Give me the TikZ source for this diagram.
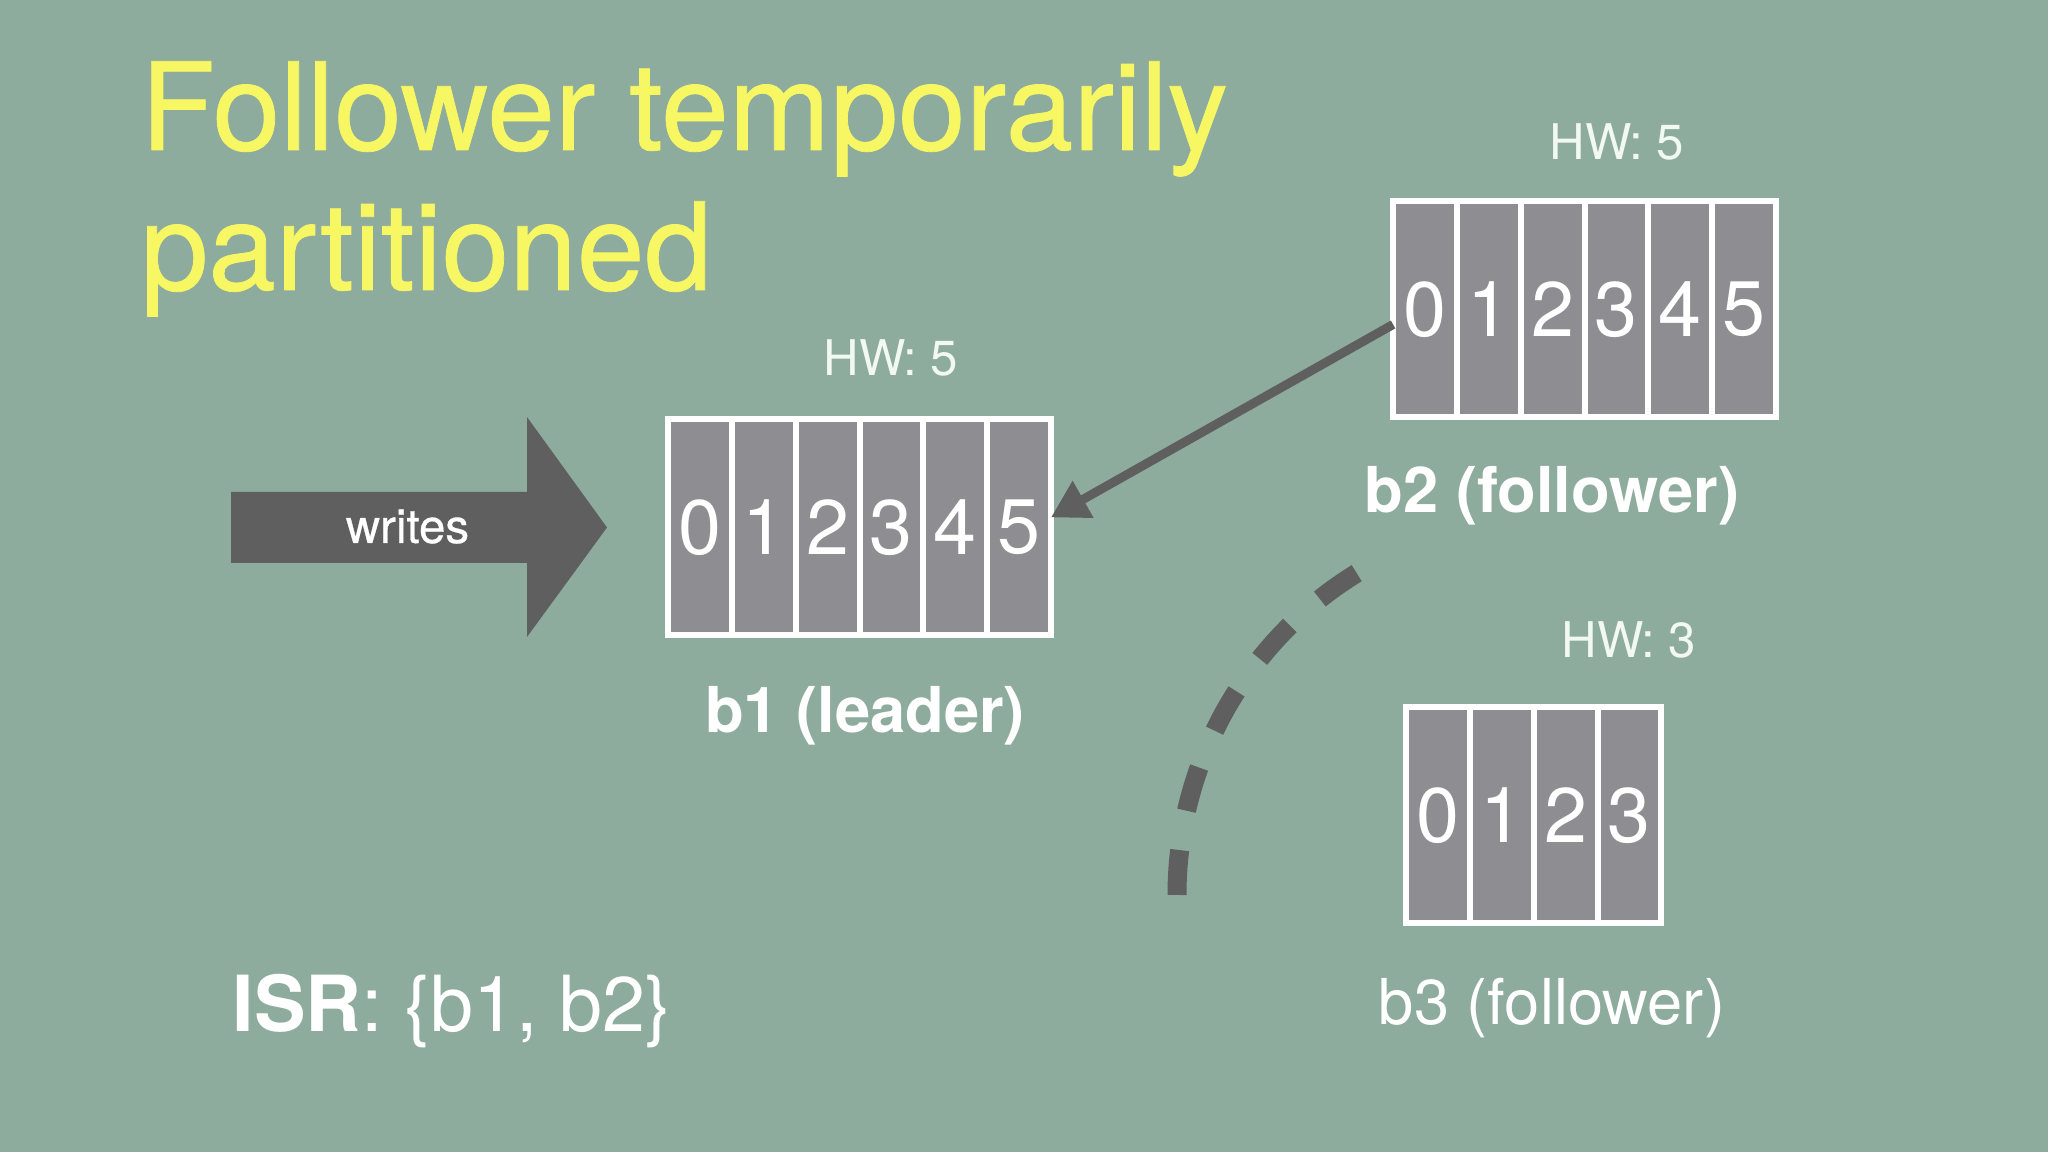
\documentclass[tikz,border=0pt]{standalone}
\usepackage{fontspec}
\setmainfont{TeX Gyre Heros}
\newfontfamily\titlefont[FakeBold=0.6]{TeX Gyre Heros}
\usetikzlibrary{arrows.meta}

\definecolor{bggreen}{HTML}{8EAC9D}
\definecolor{cellgray}{HTML}{8E8D91}
\definecolor{arrowgray}{HTML}{5E5F5E}
\definecolor{titleyellow}{HTML}{F7F763}
\definecolor{hwwhite}{HTML}{F2F8F2}

\begin{document}
\begin{tikzpicture}[
    cell/.style={draw=white, fill=cellgray, line width=0.06cm, minimum width=0.638cm,
        minimum height=2.16cm, inner sep=0pt, outer sep=0pt, text=white,
        font=\fontsize{22}{26}\selectfont},
    hwlabel/.style={text=hwwhite, inner sep=0pt, font=\fontsize{14}{17}\selectfont},
    brokerlabel/.style={text=white, anchor=base, inner sep=0pt, font=\fontsize{18}{22}\selectfont},
    titleline/.style={anchor=base west, inner sep=0pt, text=titleyellow, font=\titlefont\fontsize{34.6}{40}\selectfont}
]
    % Background
    \fill[bggreen] (0,0) rectangle (20.48,11.52);
    \useasboundingbox (0,0) rectangle (20.48,11.52);

    % Title
    \node[titleline] (title1) at (1.40,10.02) {Follower temporarily};
    \node[titleline] (title2) at (1.40,8.62) {partitioned};

    % Incoming writes
    \fill[arrowgray] (2.31,5.89) -- (5.27,5.89) -- (5.27,5.15) -- (6.07,6.245) -- (5.27,7.35) -- (5.27,6.60) -- (2.31,6.60) -- cycle;
    \node[text=white, anchor=base, inner sep=0pt, font=\titlefont\fontsize{13.5}{16}\selectfont] (writes) at (4.075,6.09) {writes};

    % b1 (leader)
    \foreach \i in {0,...,5}
        \node[cell] (b1c\i) at ({7.00+0.638*\i},6.245) {\i};
    \node[hwlabel] (hw1) at (8.91,7.94) {HW: 5};
    \node[brokerlabel, font=\fontsize{18}{22}\selectfont\bfseries] (b1) at (8.65,4.19) {b1 (leader)};

    % b2 (follower)
    \foreach \i in {0,...,5}
        \node[cell] (b2c\i) at ({14.25+0.638*\i},8.425) {\i};
    \node[hwlabel] (hw2) at (16.17,10.10) {HW: 5};
    \node[brokerlabel, font=\fontsize{18}{22}\selectfont\bfseries] (b2) at (15.52,6.39) {b2 (follower)};

    % b3 (follower), cut off
    \foreach \i in {0,...,3}
        \node[cell] (b3c\i) at ({14.38+0.638*\i},3.365) {\i};
    \node[hwlabel] (hw3) at (16.29,5.12) {HW: 3};
    \node[brokerlabel] (b3) at (15.52,1.27) {b3 (follower)};

    % Replication b2 -> b1
    \draw[arrowgray, line width=0.09cm, -{Triangle[length=0.37cm, width=0.40cm]}] ([yshift=-0.15cm]b2c0.west) -- ([yshift=0.1cm]b1c5.east);

    % Partition
    \draw[arrowgray, line width=0.19cm, dash pattern=on 0.45cm off 0.40cm] (11.77,2.57) arc[start angle=180, end angle=121, radius=3.78];

    % In-sync replicas
    \node[anchor=base west, inner sep=0pt, text=white, font=\fontsize{22}{26}\selectfont] (isr) at (2.32,1.20) {\textbf{ISR}: \{b1, b2\}};
\end{tikzpicture}
\end{document}
